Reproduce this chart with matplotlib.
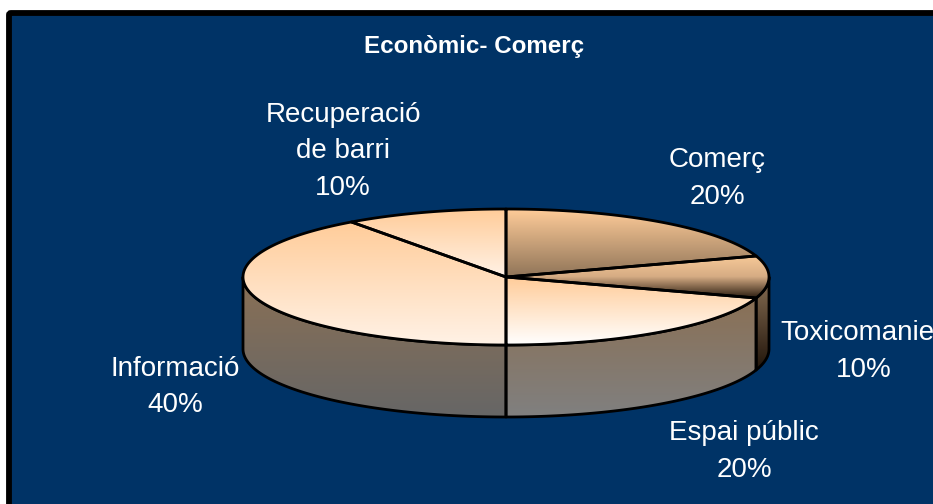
import numpy as np
import matplotlib
matplotlib.use("Agg")
import matplotlib.pyplot as plt
from matplotlib.colors import LinearSegmentedColormap, to_rgb
from matplotlib.patches import Polygon, FancyBboxPatch

categories = ["Comerç", "Toxicomanies", "Espai públic", "Informació", "Recuperació\nde barri"]
values = [20, 10, 20, 40, 10]
labels_pct = ["20%", "10%", "20%", "40%", "10%"]

W, H = 933, 504
CX, CY, RX, RY, DEPTH = 506, 277, 263, 68, 72
NAVY = "#003366"
plt.rcParams["font.family"] = ["Liberation Sans", "DejaVu Sans"]

top_grad = [("#ffcc99", "#8f7458"), ("#f8ca98", "#d6ac84", "#2a1c10"), ("#ffcc99", "#ffffff"),
            ("#ffcc99", "#fff2e6"), ("#ffcc99", "#fff2e6")]
side_grad = [None, ("#8a7055", "#20140a"), ("#8a7055", "#808080"), ("#8a7055", "#666666"), None]
label_pos = [(717, 178.5), (864, 351.5), (744, 451.5), (175, 387), (343, 151.5)]

fig = plt.figure(figsize=(W / 100, H / 100), dpi=100, facecolor="white")
bg = fig.add_axes([0, 0, 1, 1], zorder=0)
bg.set_xlim(0, W); bg.set_ylim(H, 0); bg.axis("off")
bg.add_patch(FancyBboxPatch((9, 13), 1000, 600, boxstyle="round,pad=0,rounding_size=2",
                            fc=NAVY, ec="black", lw=4.2))

ax = fig.add_axes([0, 0, 1, 1], zorder=1)
ax.patch.set_alpha(0)
ax.axis("off")
xlim = (-CX / RX, (W - CX) / RX)
ylim = (-(H - CY) / RY, CY / RY)
d = DEPTH / RY


def ell(t):
    return np.sin(t), np.cos(t)


def fill_gradient(poly, stops, z):
    pts = np.asarray(poly)
    cmap = LinearSegmentedColormap.from_list("g", [to_rgb(c) for c in stops])
    grad = np.linspace(0, 1, 256)[:, None]
    x0, x1, y0, y1 = pts[:, 0].min(), pts[:, 0].max(), pts[:, 1].min(), pts[:, 1].max()
    im = ax.imshow(grad, cmap=cmap, vmin=0, vmax=1, aspect="auto", origin="upper",
                   extent=(x0, x1, y0, y1), zorder=z, interpolation="bilinear")
    p = Polygon(pts, closed=True, fc="none", ec="black", lw=2.0, joinstyle="round", zorder=z + 0.5)
    ax.add_patch(p)
    im.set_clip_path(p)


fractions = np.cumsum([0] + values) / sum(values)
angles = fractions * 2 * np.pi

# side walls (front half of the disc only)
for i in range(len(values)):
    a0, a1 = max(angles[i], np.pi / 2), min(angles[i + 1], 3 * np.pi / 2)
    if a1 <= a0 or side_grad[i] is None:
        continue
    t = np.linspace(a0, a1, 120)
    x, y = ell(t)
    poly = np.r_[np.c_[x, y], np.c_[x[::-1], y[::-1] - d]]
    fill_gradient(poly, side_grad[i], 2)

# top surface
for i in range(len(values)):
    t = np.linspace(angles[i], angles[i + 1], 200)
    x, y = ell(t)
    poly = np.r_[[[0, 0]], np.c_[x, y]]
    fill_gradient(poly, top_grad[i], 3 + i * 0.01)

ax.set_xlim(*xlim)
ax.set_ylim(*ylim)

fig.text(474 / W, 1 - 46 / H, "Econòmic- Comerç", color="white", fontsize=17.4,
         fontweight="bold", ha="center", va="center")
for cat, pct, (px, py) in zip(categories, labels_pct, label_pos):
    fig.text(px / W, 1 - py / H, f"{cat}\n{pct}", color="white", fontsize=20,
             ha="center", va="center", linespacing=1.52)

fig.savefig("out.png", dpi=100, facecolor="white")
